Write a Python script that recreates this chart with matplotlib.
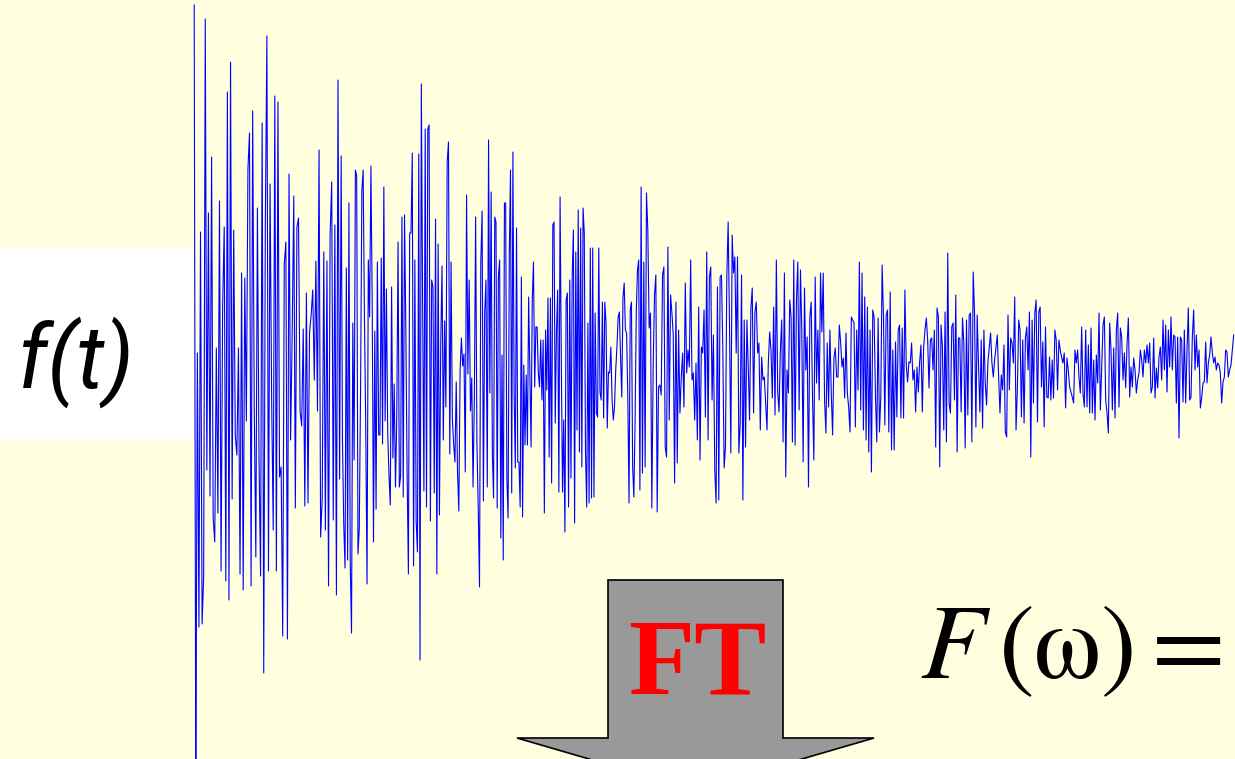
import numpy as np
import matplotlib.pyplot as plt
from matplotlib.patches import Polygon, Rectangle

W, H, DPI = 1235, 759, 100

# f(t): decaying noisy signal, amplitude in arbitrary units.
# Recorded in consecutive time blocks; samples are evenly spaced inside each block.
block_start = [0, 147, 297, 447, 597, 747, 897]
record_end = 1041

f_block1 = [375, -420, 27, -247, 148, -244, -196, 361, -90, 167,
            -116, 223, -138, -162, 32, -133, 179, -191, 75, 153,
            -201, 288, -220, 318, -119, 150, -56, -75, 32, -194,
            107, -210, 102, -41, 211, 247, -206, 269, -27, -177,
            172, -77, -196, 257, -293, 155, 344, -191, 196, -17,
            -150, 284, -191, 278, -97, -87, -256, 116, 138, -259,
            206, -60, 46, 184, -128, 153, 162, -31, -46, 51,
            -126, 87, -123, 48, 65, 90, 0, 119, -31, 230,
            -157, -119, 128, -150, 119, -206, 145, 198, -140, 155,
            -215, 300, -99]
f_block2 = [224, -60, -145, -188, 112, -180, 177, -180, -253, 57,
            -80, 210, 204, -174, -149, -11, 189, 210, 63, -47,
            -204, 120, 63, 214, 79, -162, 49, -129, 118, -55,
            -55, 122, -64, 193, -41, 91, -53, -96, -125, 93,
            -78, -4, -107, -37, 138, -107, -96, 163, -117, 165,
            51, -92, -194, 147, 147, 227, -186, 120, -141, -172,
            226, -280, 296, 77, -111, 251, -127, 251, 255, -141,
            100, 93, -113, 161, -194, 136, -135, 34, 114, -60,
            59, -27, 218, 238, -74, 118, -39, -64, -82, -2,
            -92, -131, 10, 42, 14, 26, -92, 185, 6, 100,
            -31, 2, -107, -19, 163, -62, -127, -207, 118, 169,
            -121, 67, 100, -107, 240, -13]
f_block3 = [188, -73, -118, 163, 158, -128, 103, 120, -158, 25,
            -180, 177, 177, -98, -138, 123, 210, -113, 228, -12,
            -88, 152, -82, -82, -127, 103, -137, 15, -65, 5,
            -65, 83, 7, -67, 80, 118, -7, 53, 53, 7,
            -7, 40, -20, 40, -133, 50, -10, 82, -77, 82,
            -103, 155, 158, -43, 48, 90, -112, 183, 23, -112,
            -40, -152, 80, 87, -127, 100, -98, 103, 150, -143,
            128, -50, 170, -72, 152, -87, 172, 147, -70, -127,
            57, -123, 132, -118, 132, -117, 67, -33, -37, 132,
            -12, -20, 78, -38, 78, 57, -48, 8, 7, 33,
            -20, -40, -27, 10, 33, 63, 68, 23, -17, 82,
            97, 50, 47, -17, -123, 70, 78, -87, -117, -43,
            68, 110, 120, -110]
f_block4 = [193, -93, 118, -87, 187, 150, 52, 67, -128, 13,
            85, 105, -132, -7, -5, -15, 105, 113, -67, -77,
            133, -40, 85, 67, 45, -103, 78, -83, 50, -33,
            3, 27, -27, 97, 7, 30, 13, 120, 0, 7,
            -40, 17, -60, 73, -80, 33, 27, 70, -37, 128,
            -60, 103, 113, -20, 45, -90, -123, 93, -120, 103,
            105, 33, -88, -67, 103, 158, 57, -73, 145, 107,
            123, 27, 123, -73, -43, 105, -120, 60, -67, 60,
            13, -40, 72, 92, -33, 68, 78, 27, 37, -50,
            23, 0, 3, -23, -50, 17, 48, 30, -18, 73,
            -35, 120, -12, -32, 30, 60, -62, 107, -97, 10,
            -13, 80]
f_block5 = [63, -62, 120, -65, 80, 118, -30, 110, 50, -82,
            92, 10, 43, -107, 63, 78, -17, -80, 103, -3,
            50, -20, 107, 48, 107, -20, -53, 37, -27, 50,
            -13, -55, 22, 32, 3, 3, 55, 38, 13, 22,
            -18, 47, -13, -27, -52, 63, 60, 57, -47, 50,
            -10, 118, -30, 107, -50, 83, -60, 73, -72, 50,
            -92, 70, 63, -15, -62, 62, -52, -17, 115, 63,
            -45, 65, 70, -52, 88, -70, 30, -70, 38, -37,
            50, 55, -38, 52, -38, 90, 15, -2, 18, 17,
            37, 0, 10, -32, 13, -12, 18, 35, -32, 33,
            50, 62, 40, -8, 40, 42, 10, 50, -67, 72,
            63, -87]
f_block6 = [55, 33, -50, 68, -62, 127, -23, -33, 53, 57,
            -20, 85, -72, 42, 42, -32, 62, 37, -68, 60,
            -35, 65, 67, -62, 108, 67, -47, 65, 13, -32,
            40, -48, 50, -3, -25, 18, 33, 47, 17, 3,
            20, 33, 45, 3, -33, 5, -10, 35, -52, -57,
            65, -10, 42, 37, 17, 83, -50, -8, 60, 50,
            -37, 40, -43, 42, 53, 10, 68, -77, 60, -23,
            67, 80, -42, 68, 73, -7, 38, -47, 53, -17,
            -18, 23, -20, 20, -18, 50, 40, -10, 40, 30,
            23, 17, 27, -28, 22, 10, -7, -12, -17, -23,
            30, 17, 30, 3, -13, 53, -13, -27, 50, -27,
            35, -33]
f_block7 = [52, -33, 20, -40, 25, -3, 67, -30, 13, 55,
            63, -20, -33, -53, 57, 30, -30, 32, -38, 50,
            67, -27, 52, 43, 0, 27, -8, 35, 62, -17,
            13, -7, 22, 10, -13, 0, 7, 30, 20, 3,
            30, 17, 35, 17, 37, -13, -7, 42, -18, 12,
            -8, 23, 33, 0, 60, 10, 55, -12, 50, 13,
            63, 10, 45, 43, -23, 43, -58, 43, 40, -22,
            50, -23, 30, 72, -20, -17, 43, 70, 10, 45,
            13, 30, -28, -18, -3, -2, 38, -3, 17, 25,
            43, 27, 17, 23, 10, 17, 15, 7, -23, -2,
            3, 30, 28, 3, 10, 15, 30, 45]

blocks = [f_block1, f_block2, f_block3, f_block4, f_block5, f_block6, f_block7]
bounds = block_start + [record_end]
t = np.concatenate([np.linspace(bounds[i], bounds[i + 1], len(b), endpoint=False)
                    for i, b in enumerate(blocks)])
f_values = np.concatenate([np.asarray(b, dtype=float) for b in blocks])

label_time = "f(t)"
label_ft = "FT"
label_freq = r"$F\,(\mathrm{\omega})=$"

BG = "#FFFFDF"
fig = plt.figure(figsize=(W / DPI, H / DPI), dpi=DPI, facecolor=BG)


def fx(px):
    return px / W


def fy(py):
    return 1 - py / H


# white band behind the f(t) label
fig.patches.append(Rectangle((0, fy(441)), fx(193), (441 - 247) / H,
                             transform=fig.transFigure, facecolor="white",
                             edgecolor="none", zorder=0))

fig.text(fx(76), fy(362), label_time, fontsize=63, style="italic",
         family="Roboto", ha="center", va="center", color="black")

# signal trace
ax = fig.add_axes([fx(193), 0, 1 - fx(193), 1])
ax.set_axis_off()
ax.patch.set_alpha(0)
ax.plot(t, f_values, color="#0000FF", lw=0.8)
ax.set_xlim(-1.2, record_end)
ax.set_ylim(-379, 380)

# block arrow pointing down
arrow_px = [(608, 580), (783, 580), (783, 738), (874, 738),
            (695.5, 790), (517, 738), (608, 738)]
fig.patches.append(Polygon([(fx(x), fy(y)) for x, y in arrow_px], closed=True,
                           transform=fig.transFigure, facecolor="#999999",
                           edgecolor="black", lw=1.2, zorder=2))

fig.text(fx(697), fy(694), label_ft, fontsize=78, fontweight="bold",
         family="Liberation Serif", color="#FF0000", ha="center",
         va="baseline", zorder=3)

fig.text(fx(920), fy(678), label_freq, fontsize=77, ha="left",
         va="baseline", math_fontfamily="stix", color="black")

fig.savefig("out.png", dpi=DPI, facecolor=BG)
